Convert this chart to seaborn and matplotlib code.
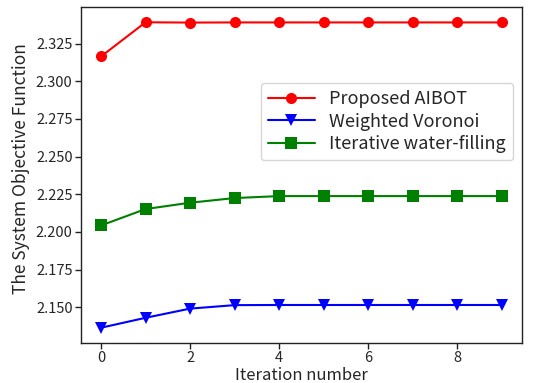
import matplotlib
matplotlib.use("Agg")
import matplotlib.pyplot as plt
import seaborn as sns
import pandas as pd

iterations = [0, 1, 2, 3, 4, 5, 6, 7, 8, 9]
aibot = [2.3165, 2.3392, 2.3390, 2.3391, 2.3391, 2.3391, 2.3391, 2.3391, 2.3391, 2.3391]
voronoi = [2.1364, 2.1430, 2.1491, 2.1514, 2.1515, 2.1515, 2.1515, 2.1515, 2.1515, 2.1515]
waterfill = [2.2043, 2.2152, 2.2194, 2.2225, 2.2238, 2.2238, 2.2238, 2.2238, 2.2238, 2.2238]
series_names = ["Proposed AIBOT", "Weighted Voronoi", "Iterative water-filling"]

sns.set_style("ticks")
plt.rcParams['font.family'] = ['Noto Sans CJK SC', 'DejaVu Sans']

df = pd.DataFrame({
    "Iteration": iterations * 3,
    "Value": aibot + voronoi + waterfill,
    "Method": [series_names[0]] * 10 + [series_names[1]] * 10 + [series_names[2]] * 10,
})

fig = plt.figure(figsize=(5.33, 3.83), dpi=100)
ax = fig.add_axes([81 / 533, 1 - 343 / 383, 441 / 533, 336 / 383])

sns.lineplot(data=df, x="Iteration", y="Value", hue="Method", style="Method",
             palette=["#ff0000", "#0000ff", "#008000"],
             markers=["o", "v", "s"], dashes=False, markersize=8,
             markeredgewidth=0, linewidth=1.5, ax=ax)

ax.set_xticks([0, 2, 4, 6, 8])
ax.set_yticks([2.150, 2.175, 2.200, 2.225, 2.250, 2.275, 2.300, 2.325])
ax.set_yticklabels(["%.3f" % v for v in ax.get_yticks()])
ax.tick_params(labelsize=10.5, length=4, width=1, color="#222222", pad=2)
for sp in ax.spines.values():
    sp.set_visible(True)
    sp.set_color("#222222")
    sp.set_linewidth(1.0)

ax.set_xlabel("Iteration number", fontsize=12, va="center")
ax.xaxis.set_label_coords(0.5, (343 - 375) / 336)
ax.set_ylabel("The System Objective Function", fontsize=12.5, va="center")
ax.yaxis.set_label_coords((21 - 81) / 441, 0.52)

leg = ax.legend(loc="upper right", bbox_to_anchor=(0.98, 0.774), borderaxespad=0,
                fontsize=13, frameon=True, handlelength=2.6, labelspacing=0.25,
                handletextpad=0.8, borderpad=0.4)
leg.get_frame().set_edgecolor("#cccccc")

fig.savefig("out.png", dpi=100)
